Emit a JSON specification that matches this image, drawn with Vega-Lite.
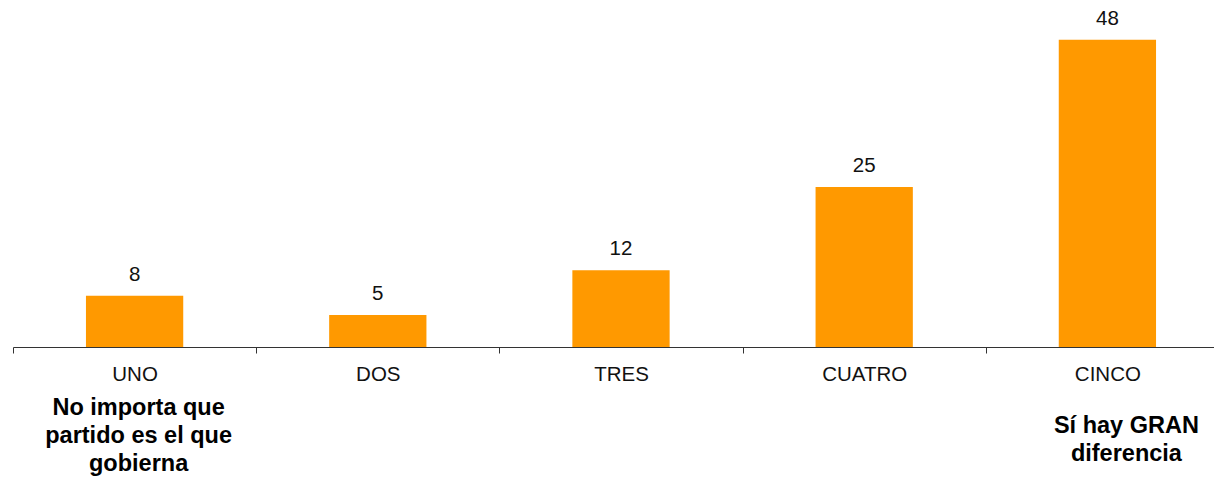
{
  "$schema": "https://vega.github.io/schema/vega-lite/v6.json",
  "autosize": {"type": "none"},
  "width": 1201,
  "height": 320,
  "padding": {"left": 13, "top": 27, "right": 0, "bottom": 131},
  "background": "white",
  "config": {"view": {"stroke": null}, "font": "Liberation Sans"},
  "data": {"values": [
    {"cat": "UNO", "v": 8},
    {"cat": "DOS", "v": 5},
    {"cat": "TRES", "v": 12},
    {"cat": "CUATRO", "v": 25},
    {"cat": "CINCO", "v": 48}
  ]},
  "encoding": {
    "x": {"field": "cat", "type": "nominal", "sort": null,
      "scale": {"paddingInner": 0, "paddingOuter": 0, "range": [0, 1216]},
      "axis": {"title": null, "labelAngle": 0, "tickBand": "extent", "domainColor": "#333", "tickColor": "#333", "tickSize": 6, "labelPadding": 11, "labelFontSize": 20.5, "labelColor": "#111", "labelFont": "Liberation Sans"}}
  },
  "layer": [
    {"mark": {"type": "bar", "color": "#FF9900", "width": {"band": 0.4}},
      "encoding": {"y": {"field": "v", "type": "quantitative", "scale": {"domain": [0, 50], "nice": false}, "axis": null}}},
    {"mark": {"type": "text", "dy": -15, "baseline": "alphabetic", "fontSize": 20.5, "color": "#111"},
      "encoding": {"y": {"field": "v", "type": "quantitative"}, "text": {"field": "v"}}},
    {"data": {"values": [{"cat": "UNO", "pos": -10.6, "note": ["No importa que", "partido es el que", "gobierna"]}]},
      "mark": {"type": "text", "fontWeight": "bold", "fontSize": 23.5, "lineHeight": 28, "baseline": "alphabetic", "dx": 4, "color": "#000"},
      "encoding": {"y": {"field": "pos", "type": "quantitative"}, "text": {"field": "note"}}},
    {"data": {"values": [{"cat": "CINCO", "pos": -13.45, "note": ["Sí hay GRAN", "diferencia"]}]},
      "mark": {"type": "text", "fontWeight": "bold", "fontSize": 23.5, "lineHeight": 28, "baseline": "alphabetic", "dx": 19, "color": "#000"},
      "encoding": {"y": {"field": "pos", "type": "quantitative"}, "text": {"field": "note"}}}
  ]
}
